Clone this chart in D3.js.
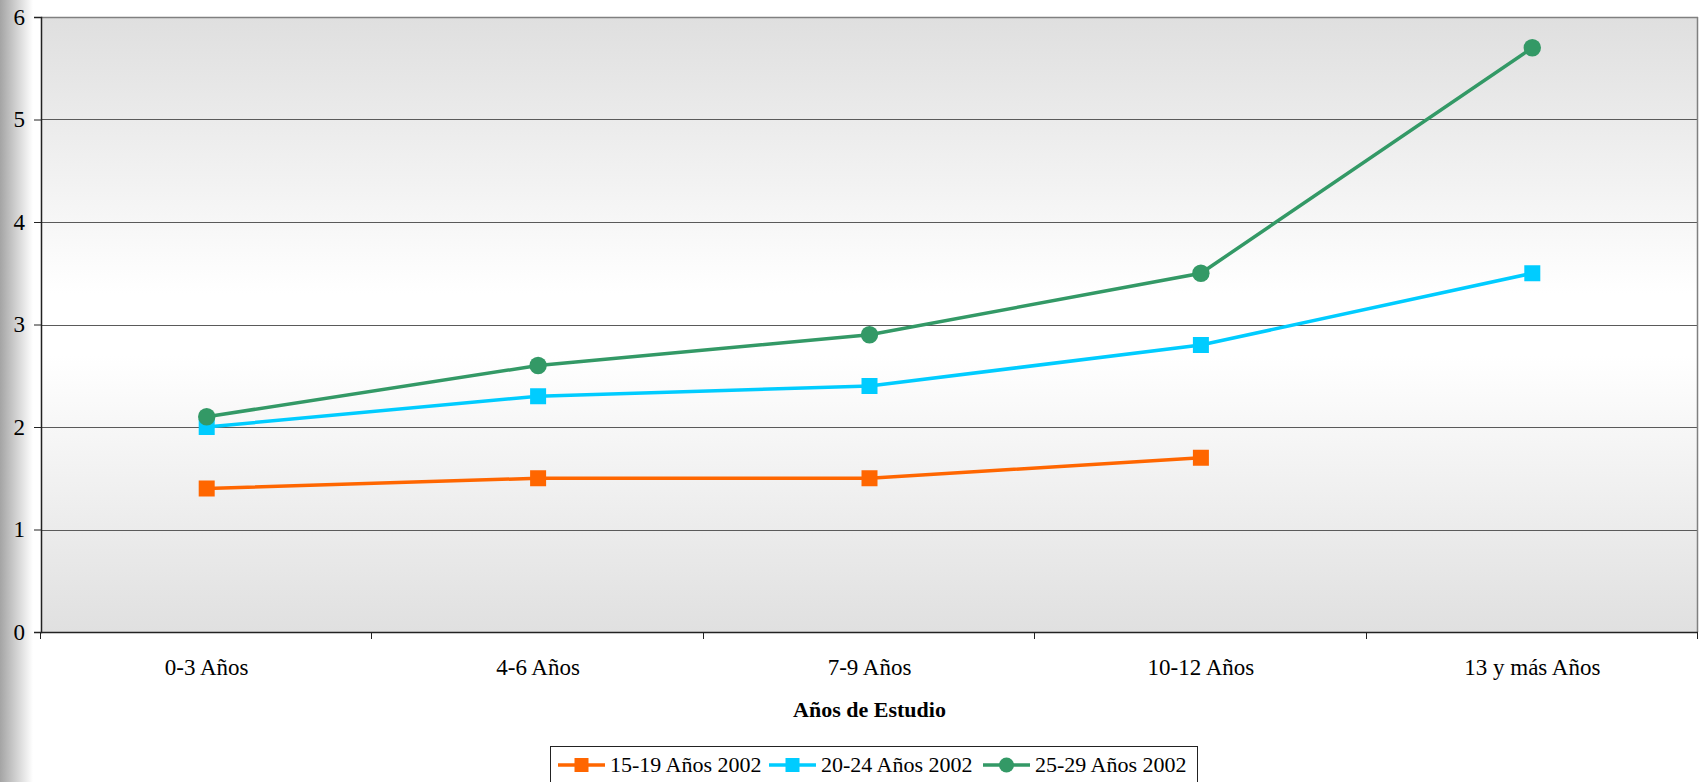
<!DOCTYPE html>
<html><head><meta charset="utf-8">
<script src="https://cdn.jsdelivr.net/npm/d3@7"></script>
<style>html,body{margin:0;padding:0;background:#fff;}svg{display:block;}</style>
</head><body>
<script>
const categories = ["0-3 Años","4-6 Años","7-9 Años","10-12 Años","13 y más Años"];
const seriesNames = ["15-19 Años 2002","20-24 Años 2002","25-29 Años 2002"];
const s1519 = [1.4, 1.5, 1.5, 1.7, null];
const s2024 = [2.0, 2.3, 2.4, 2.8, 3.5];
const s2529 = [2.1, 2.6, 2.9, 3.5, 5.7];
const yTicks = [0,1,2,3,4,5,6];
const xTitle = "Años de Estudio";

const colors = ["#FF6600","#00CCFF","#339966"];
const shapes = ["square","square","circle"];
const series = [s1519, s2024, s2529].map((v,i)=>({name:seriesNames[i], values:v, color:colors[i], shape:shapes[i]}));

const W = 1699, H = 782;
const m = {l:41, r:1, t:17, b:150};
const svg = d3.select("body").append("svg").attr("width",W).attr("height",H);
const defs = svg.append("defs");
const sg = defs.append("linearGradient").attr("id","shadow").attr("x1","0").attr("x2","1").attr("y1","0").attr("y2","0");
sg.append("stop").attr("offset","0%").attr("stop-color","#a4a4a4");
sg.append("stop").attr("offset","100%").attr("stop-color","#ffffff");
const bg = defs.append("linearGradient").attr("id","bg").attr("x1","0").attr("x2","0").attr("y1","0").attr("y2","1");
bg.append("stop").attr("offset","0%").attr("stop-color","#dfdfdf");
bg.append("stop").attr("offset","45%").attr("stop-color","#ffffff");
bg.append("stop").attr("offset","55%").attr("stop-color","#ffffff");
bg.append("stop").attr("offset","100%").attr("stop-color","#e0e0e0");

svg.append("rect").attr("x",0).attr("y",0).attr("width",33).attr("height",H).attr("fill","url(#shadow)");

const x0 = m.l, x1 = W - m.r, y0 = m.t, y1 = 632;
const x = d3.scaleBand().domain(categories).range([x0,x1]);
const y = d3.scaleLinear().domain([0,6]).range([y1,y0]);

svg.append("rect").attr("x",x0).attr("y",y0).attr("width",x1-x0).attr("height",y1-y0).attr("fill","url(#bg)");

// grid
svg.append("g").selectAll("line").data(yTicks.filter(d=>d>0)).join("line")
  .attr("x1",x0).attr("x2",x1).attr("y1",d=>Math.round(y(d))+0.5).attr("y2",d=>Math.round(y(d))+0.5)
  .attr("stroke","#5a5a5a").attr("stroke-width",1);
// top/right border
svg.append("line").attr("x1",x0).attr("x2",x1).attr("y1",y0+0.5).attr("y2",y0+0.5).attr("stroke","#808080").attr("stroke-width",1.5);
svg.append("line").attr("x1",x1-0.5).attr("x2",x1-0.5).attr("y1",y0).attr("y2",y1).attr("stroke","#808080").attr("stroke-width",1.5);

// y axis
const yAxis = d3.axisLeft(y).tickValues(yTicks).tickSize(7).tickPadding(9).tickFormat(d3.format("d"));
const ya = svg.append("g").attr("transform",`translate(${x0},0)`).call(yAxis);
ya.select(".domain").attr("stroke","#222").attr("stroke-width",1.5);
ya.selectAll(".tick line").attr("stroke","#222");
ya.selectAll("text").attr("font-family","'Liberation Serif', serif").attr("font-size",23).attr("fill","#000");

// x axis with ticks at boundaries
const xa = svg.append("g").attr("transform",`translate(0,${y1})`);
xa.append("line").attr("x1",x0).attr("x2",x1).attr("y1",0.5).attr("y2",0.5).attr("stroke","#222").attr("stroke-width",1.5);
const bounds = categories.map(c=>x(c)).concat([x1]);
xa.selectAll("line.tk").data(bounds).join("line").attr("class","tk")
  .attr("x1",d=>Math.round(d)-0.5).attr("x2",d=>Math.round(d)-0.5).attr("y1",0).attr("y2",7).attr("stroke","#222");
xa.selectAll("text").data(categories).join("text")
  .attr("x",d=>x(d)+x.bandwidth()/2).attr("y",43).attr("text-anchor","middle")
  .attr("font-family","'Liberation Serif', serif").attr("font-size",23).attr("fill","#000").text(d=>d);

svg.append("text").attr("x",(x0+x1)/2).attr("y",717).attr("text-anchor","middle")
  .attr("font-family","'Liberation Serif', serif").attr("font-size",22).attr("font-weight","bold").attr("fill","#000").text(xTitle);

// lines
const cx = c => x(c) + x.bandwidth()/2;
const line = d3.line().defined(d=>d.v!=null).x(d=>cx(d.c)).y(d=>y(d.v));
series.forEach(s=>{
  const pts = categories.map((c,i)=>({c, v:s.values[i]}));
  svg.append("path").datum(pts).attr("d",line).attr("fill","none").attr("stroke",s.color).attr("stroke-width",3.5);
  const g = svg.append("g");
  pts.filter(d=>d.v!=null).forEach(d=>{
    if(s.shape==="square"){
      g.append("rect").attr("x",cx(d.c)-8).attr("y",y(d.v)-8).attr("width",16).attr("height",16).attr("fill",s.color);
    } else {
      g.append("circle").attr("cx",cx(d.c)).attr("cy",y(d.v)).attr("r",8.7).attr("fill",s.color);
    }
  });
});

// legend
const lg = svg.append("g");
lg.append("rect").attr("x",550.5).attr("y",746.5).attr("width",647).attr("height",45).attr("fill","#fff").attr("stroke","#222").attr("stroke-width",1);
const legX = [558, 769, 983];
series.forEach((s,i)=>{
  const lx = legX[i], ly = 765;
  lg.append("line").attr("x1",lx).attr("x2",lx+47).attr("y1",ly).attr("y2",ly).attr("stroke",s.color).attr("stroke-width",3.5);
  if(s.shape==="square") lg.append("rect").attr("x",lx+23.5-7).attr("y",ly-7).attr("width",14).attr("height",14).attr("fill",s.color);
  else lg.append("circle").attr("cx",lx+23.5).attr("cy",ly).attr("r",7.5).attr("fill",s.color);
  lg.append("text").attr("x",lx+52).attr("y",ly+7).attr("font-family","'Liberation Serif', serif").attr("font-size",22).attr("fill","#000").text(s.name);
});
</script>
</body></html>
